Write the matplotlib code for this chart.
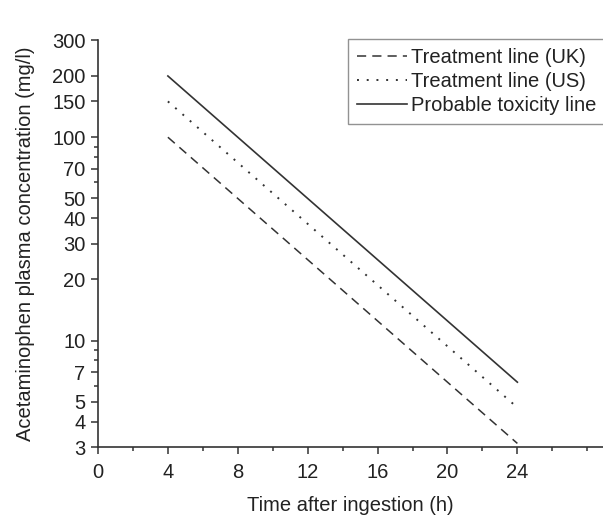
import numpy as np
import matplotlib.pyplot as plt
from matplotlib.ticker import FixedLocator, NullFormatter

plt.rcParams['font.family'] = ['Liberation Sans', 'DejaVu Sans']

# nomogram lines: concentration at 4 h and 24 h
hours = [4, 24]
uk_line = [100, 3.125]
us_line = [150, 4.69]
tox_line = [200, 6.25]

yticks = [3, 4, 5, 7, 10, 20, 30, 40, 50, 70, 100, 150, 200, 300]
yminor = [6, 8, 9, 60, 80, 90]
xticks = [0, 4, 8, 12, 16, 20, 24]
xminor = [2, 6, 10, 14, 18, 22, 26, 28]

fig = plt.figure(figsize=(6.03, 5.15), dpi=100)
ax = fig.add_axes([0.1625, 0.132, 0.8375, 0.79])

c = '#333333'
ax.plot(hours, uk_line, ls=(0, (6, 4)), color=c, lw=1.1, label='Treatment line (UK)')
ax.plot(hours, us_line, ls=(0, (1, 4)), color=c, lw=1.4, label='Treatment line (US)')
ax.plot(hours, tox_line, ls='-', color=c, lw=1.2, label='Probable toxicity line')

ax.set_yscale('log')
ax.set_ylim(3, 300)
ax.set_xlim(0, 28.9)
ax.yaxis.set_major_locator(FixedLocator(yticks))
ax.yaxis.set_minor_locator(FixedLocator(yminor))
ax.set_yticklabels([str(v) for v in yticks])
ax.yaxis.set_minor_formatter(NullFormatter())
ax.set_xticks(xticks)
ax.set_xticks(xminor, minor=True)

for s in ['top', 'right']:
    ax.spines[s].set_visible(False)
for s in ['left', 'bottom']:
    ax.spines[s].set_color(c)
    ax.spines[s].set_linewidth(1.2)
ax.tick_params(which='major', length=5, width=1.1, color=c, labelsize=14.5, labelcolor='#222222')
ax.tick_params(axis='x', which='major', pad=6.5)
ax.tick_params(axis='y', which='major', pad=4)
ax.tick_params(which='minor', length=3, width=1.1, color=c)

ax.set_xlabel('Time after ingestion (h)', fontsize=14.5, color='#222222', labelpad=10)
ax.set_ylabel('Acetaminophen plasma concentration (mg/l)', fontsize=14.5, color='#222222', labelpad=12)

leg = ax.legend(loc='upper left', bbox_to_anchor=(0.577, 0.924), bbox_transform=fig.transFigure,
                fontsize=14.5, frameon=True, fancybox=False, handlelength=2.5, handletextpad=0.2,
                borderpad=0.45, labelspacing=0.25, borderaxespad=0)
leg.get_frame().set_edgecolor('#777777')
leg.get_frame().set_linewidth(1.0)
for t in leg.get_texts():
    t.set_color('#222222')

fig.savefig('out.png', dpi=100)
